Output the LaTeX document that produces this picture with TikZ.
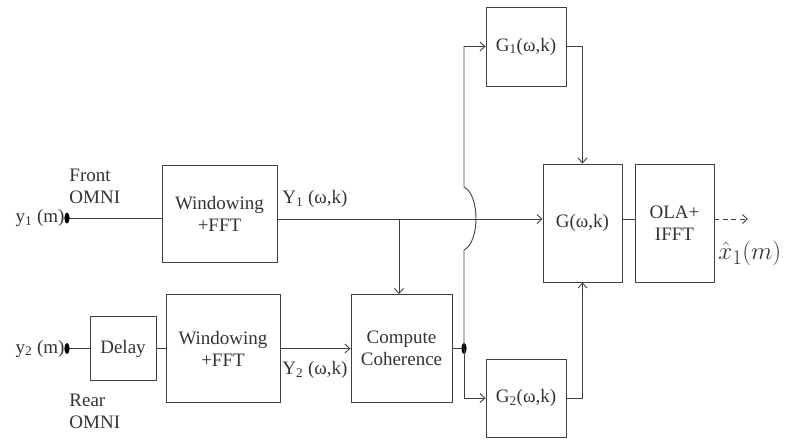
\documentclass[tikz,border=0pt]{standalone}
\usepackage{fontspec}
\setmainfont{Liberation Serif}
\usetikzlibrary{arrows.meta}
\begin{document}
\begin{tikzpicture}[x=1pt,y=-1pt,
  line width=0.9pt, draw=black!75,
  every node/.style={font=\fontsize{19}{22}\selectfont, text=black!80},
  blk/.style={draw=black!75, line width=0.9pt, align=center, inner sep=0pt},
  arr/.style={-{Straight Barb[length=5pt,width=9pt]}},
  dot/.style={fill=black, draw=none}]
\useasboundingbox (0,0) rectangle (785,441);
% blocks
\node[blk, minimum width=115pt, minimum height=97pt] (win1) at (219.5,213.5) {Windowing\\+FFT};
\node[blk, minimum width=66pt, minimum height=64pt] (delay) at (123,348.5) {Delay};
\node[blk, minimum width=114pt, minimum height=108pt] (win2) at (223,348.5) {Windowing\\+FFT};
\node[blk, minimum width=101pt, minimum height=108pt] (coh) at (401.5,348.5) {Compute\\Coherence};
\node[blk, minimum width=80pt, minimum height=79pt] (g1) at (526,46.5) {G\textsubscript{1}(ω,k)};
\node[blk, minimum width=80pt, minimum height=78pt] (g2) at (526,398) {G\textsubscript{2}(ω,k)};
\node[blk, minimum width=79pt, minimum height=118pt] (g) at (582.5,223) {G(ω,k)};
\node[blk, minimum width=79pt, minimum height=118pt] (ola) at (674.5,223) {OLA+\\IFFT};
% coordinates
\coordinate (y1) at (67,218);
\coordinate (y2) at (67,348.5);
\coordinate (main) at (0,219);
\coordinate (br) at (399,219);
\coordinate (jd) at (464,348.5);
\coordinate (jb) at (464,250);
\coordinate (jt) at (464,187);
\coordinate (out) at (748,219);
% input lines
\draw (y1) -- (y1 -| win1.west);
\draw (y2) -- (delay.west);
\draw (delay.east) -- (win2.west);
\fill[dot] (y1) ellipse (2.6 and 5.5);
\fill[dot] (y2) ellipse (2.6 and 5.5);
% main path
\draw[arr] (win1.east |- main) -- (g.west |- main);
\draw[arr] (br) -- (br |- coh.north);
\draw[arr] (win2.east) -- (coh.west);
\draw (coh.east) -- (jd);
\fill[dot] (jd) ellipse (2.6 and 5.5);
\draw[arr] (jd) -- (jb) .. controls (480,242) and (480,195) .. (jt) |- (g1.west);
\draw[arr] (jd) |- (g2.west);
\draw[arr] (g1.east) -| (g.north);
\draw[arr] (g2.east) -| (g.south);
\draw (g.east |- main) -- (ola.west |- main);
\draw[arr, dash pattern=on 5pt off 3.5pt] (ola.east |- main) -- (out);
% labels
\node[anchor=east, inner sep=2pt] (ly1) at (y1) {y\textsubscript{1} (m)};
\node[anchor=east, inner sep=2pt] (ly2) at (y2) {y\textsubscript{2} (m)};
\node[anchor=west, align=left, inner sep=0pt] (front) at (69,186) {Front\\OMNI};
\node[anchor=west, align=left, inner sep=0pt] (rear) at (69,411) {Rear\\OMNI};
\node[anchor=west, inner sep=0pt] (lY1) at (282,199) {Y\textsubscript{1} (ω,k)};
\node[anchor=west, inner sep=0pt] (lY2) at (282,370) {Y\textsubscript{2} (ω,k)};
\node[anchor=west, inner sep=0pt, font=\fontsize{29}{31}\selectfont] (xh) at (718,253) {$\hat{x}_1(m)$};
\end{tikzpicture}
\end{document}
